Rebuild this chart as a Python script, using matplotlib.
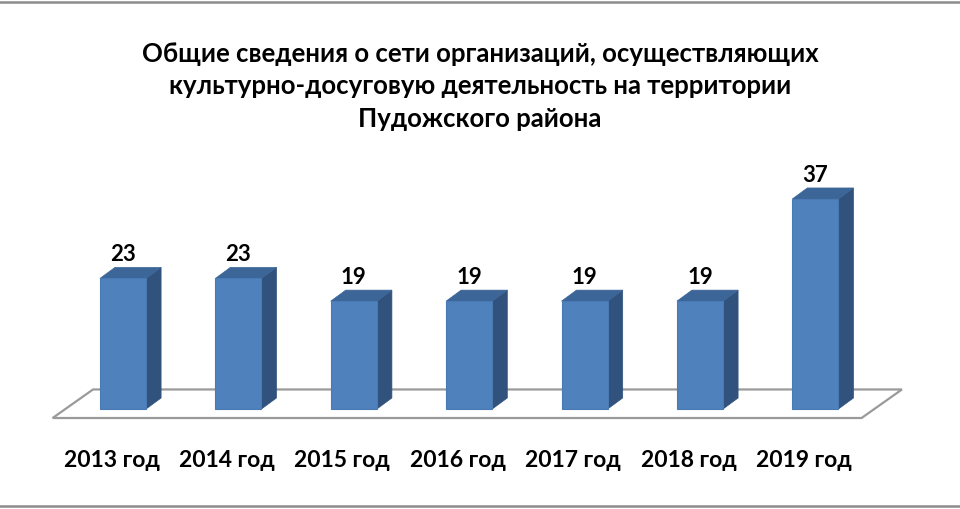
import numpy as np
import matplotlib
matplotlib.use('Agg')
import matplotlib.pyplot as plt
from matplotlib.patches import Polygon
from matplotlib.lines import Line2D

# data
years = ['2013 год', '2014 год', '2015 год', '2016 год', '2017 год', '2018 год', '2019 год']
counts = [23, 23, 19, 19, 19, 19, 37]
title_lines = ['Общие сведения о сети организаций, осуществляющих',
               'культурно-досуговую деятельность на территории',
               'Пудожского района']

plt.rcParams['font.family'] = ['Lato', 'Open Sans', 'DejaVu Sans']

front_c = '#4f81bd'
side_c = '#30527d'
top_c = '#3c6598'
edge_c = '#4a7ab3'

fig = plt.figure(figsize=(9.6, 5.1), dpi=100)
ax = fig.add_axes([0, 0, 1, 1])
ax.set_xlim(-1.066, 7.253)
ax.set_ylim(-17.62, 72.23)
ax.axis('off')

x = np.arange(len(counts))
bar_w = 0.40
dx, dy = 0.13, 1.94  # fake 3d depth of the bars

# floor
floor = Polygon([(-0.61, -1.59), (6.40, -1.59), (6.75, 3.44), (-0.26, 3.44)],
                closed=True, fc='white', ec='#9a9a9a', lw=1.6, zorder=1)
ax.add_patch(floor)

# front faces
ax.bar(x, counts, width=bar_w, color=front_c, edgecolor=edge_c, lw=0.8, zorder=3)

for xi, v in zip(x, counts):
    r = xi + bar_w / 2
    l = xi - bar_w / 2
    side = Polygon([(r, 0), (r + dx, dy), (r + dx, v + dy), (r, v)],
                   closed=True, fc=side_c, ec=side_c, lw=0.5, zorder=2)
    top = Polygon([(l, v), (r, v), (r + dx, v + dy), (l + dx, v + dy)],
                  closed=True, fc=top_c, ec=top_c, lw=0.5, zorder=2)
    ax.add_patch(side)
    ax.add_patch(top)
    ax.text(xi, v + dy + 1.25, str(v), ha='center', va='baseline',
            fontsize=16, fontweight='bold', color='black')

# category labels
for xi, lab in zip(x, years):
    ax.text(xi - 0.1, -8.98, lab, ha='center', va='center',
            fontsize=16.5, fontweight='bold', color='black')

# title
for i, line in enumerate(title_lines):
    fig.text(0.5, 1 - (62 + 32.5 * i) / 510, line, ha='center', va='baseline',
             fontsize=18.5, fontweight='bold', color='black')

# frame lines top and bottom
for yy in [1 - 2.5 / 510, 1 - 507 / 510]:
    fig.add_artist(Line2D([0, 1], [yy, yy], transform=fig.transFigure,
                          color='#8c8c8c', lw=1.8))

fig.savefig('out.png', dpi=100)
